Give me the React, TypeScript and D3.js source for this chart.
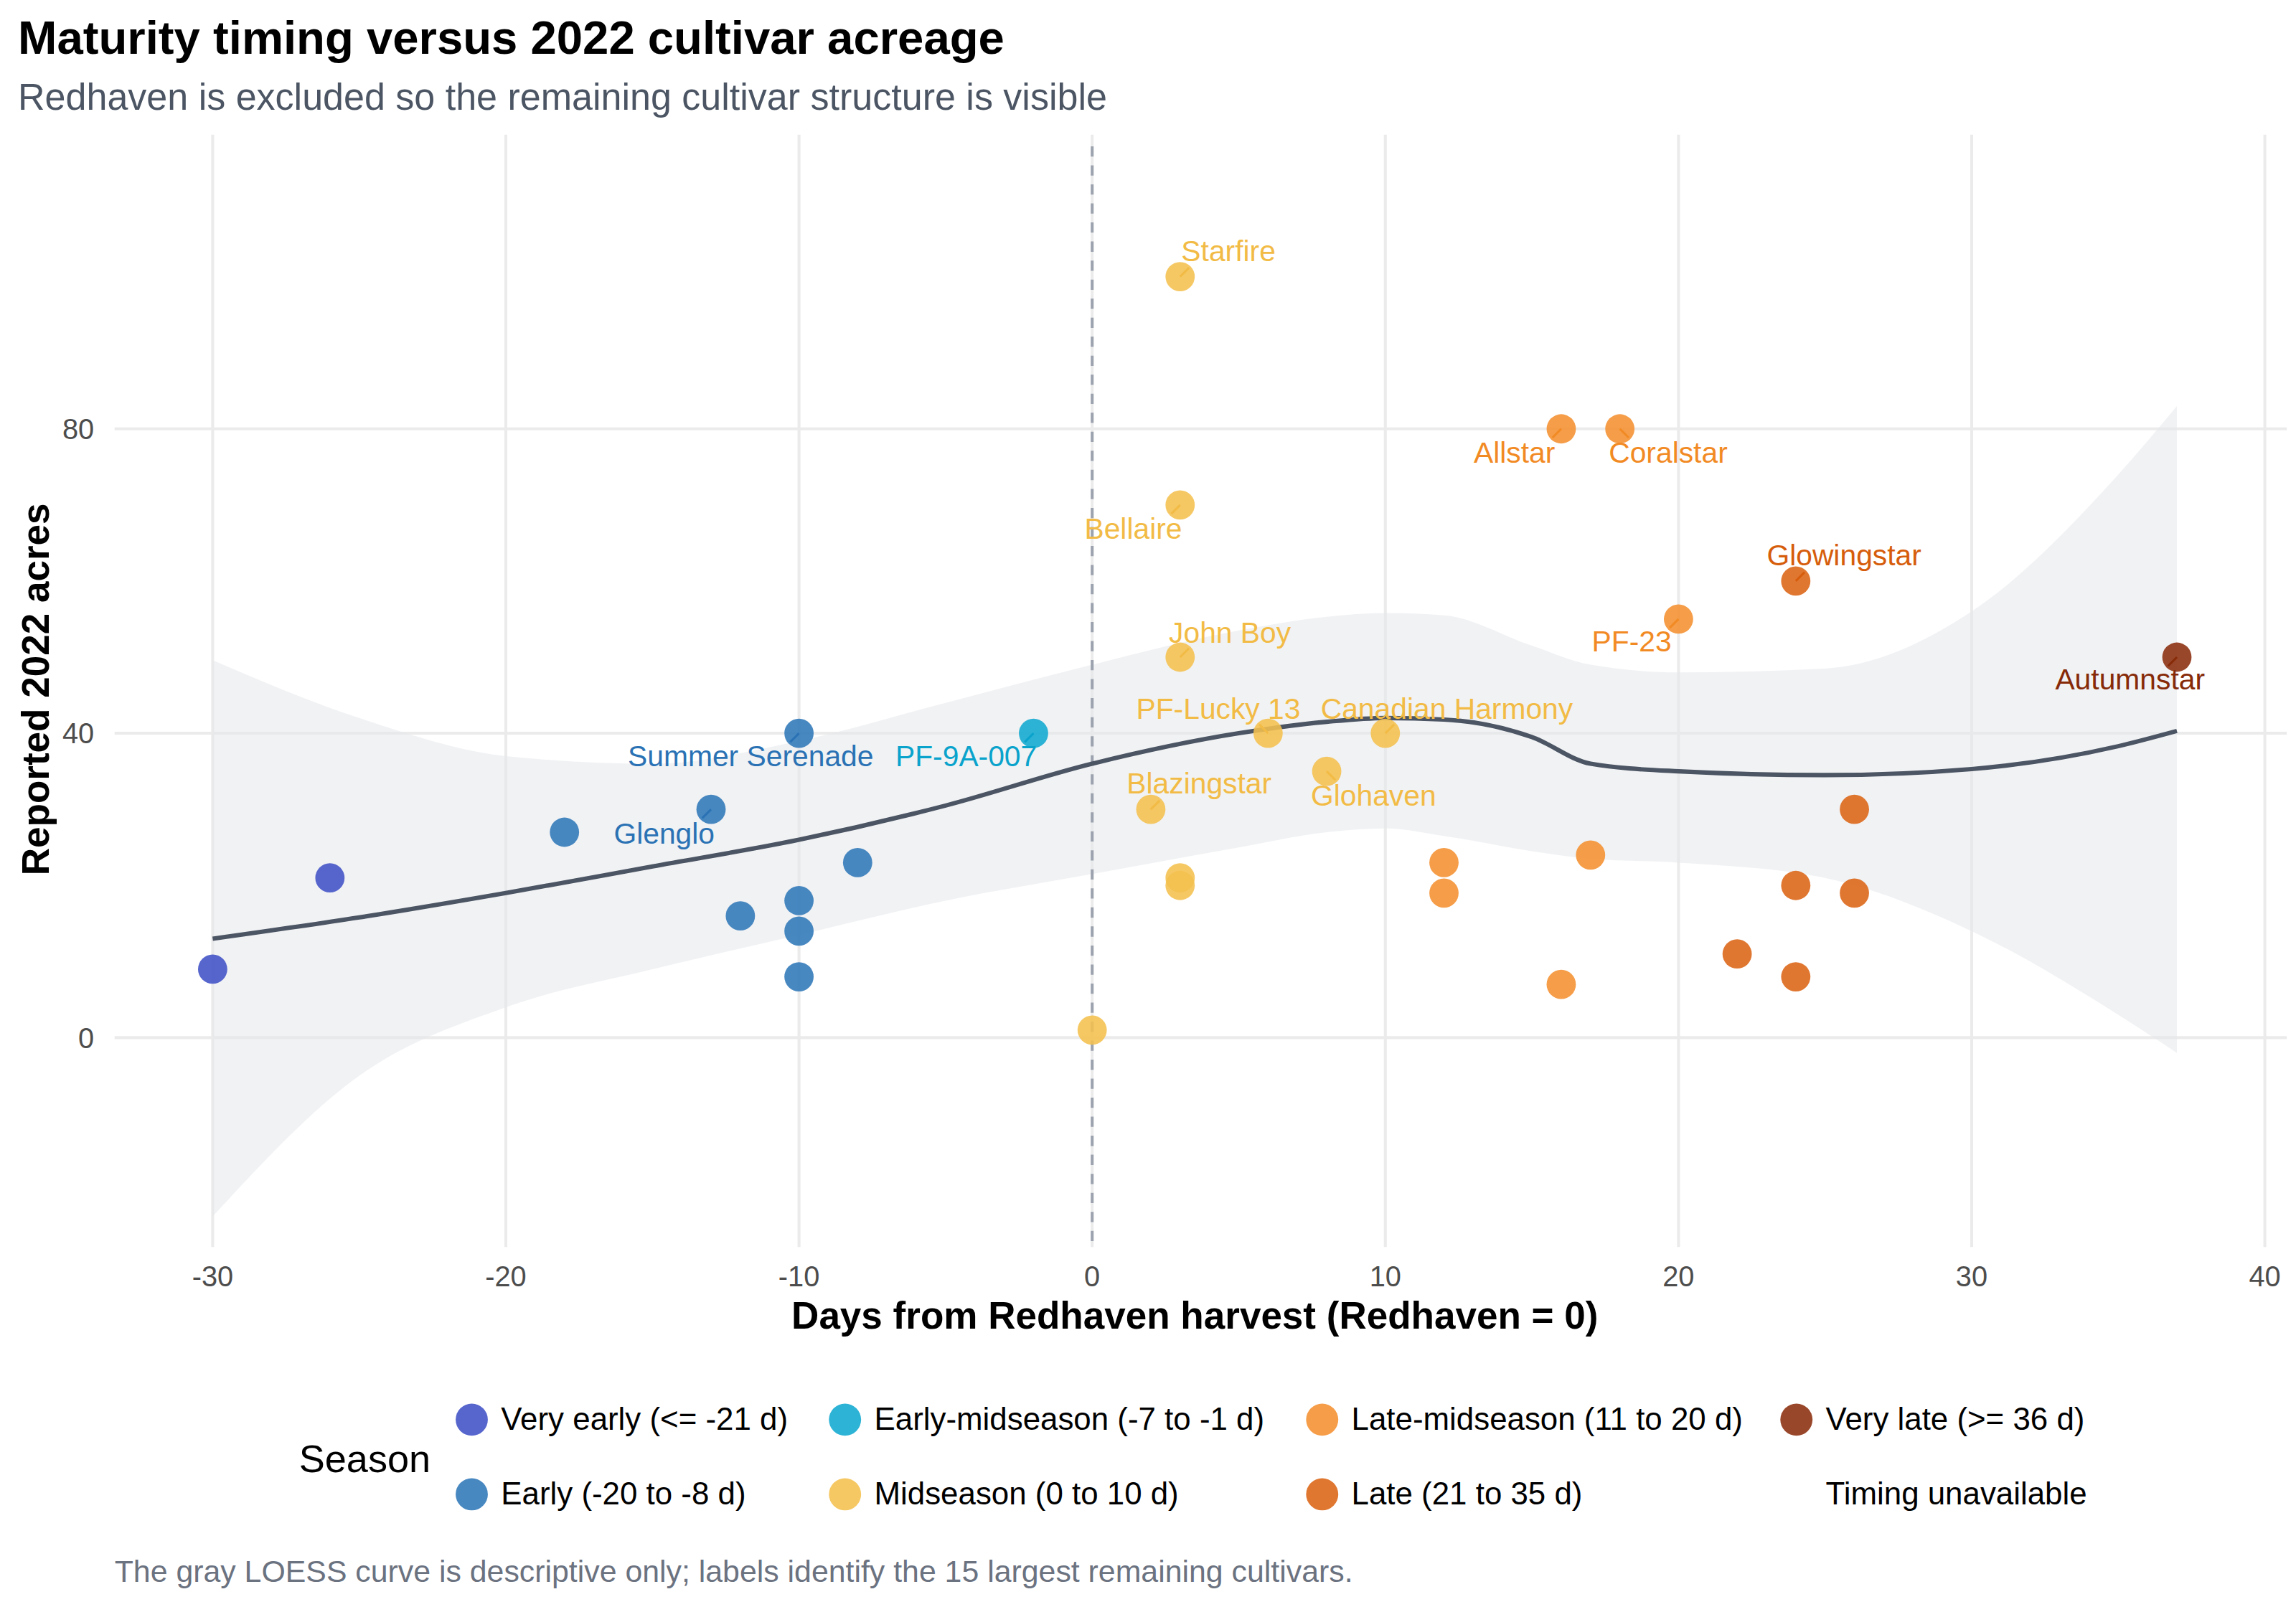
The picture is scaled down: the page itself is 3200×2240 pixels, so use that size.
import * as d3 from 'd3'
import React from 'react'

// season groups
const seasons = [
  { key: 've', label: 'Very early (<= -21 d)', color: '#4051c6' },
  { key: 'e', label: 'Early (-20 to -8 d)', color: '#2f78b8' },
  { key: 'em', label: 'Early-midseason (-7 to -1 d)', color: '#10a8cf' },
  { key: 'm', label: 'Midseason (0 to 10 d)', color: '#f4c04e' },
  { key: 'lm', label: 'Late-midseason (11 to 20 d)', color: '#f4902f' },
  { key: 'l', label: 'Late (21 to 35 d)', color: '#dc6415' },
  { key: 'vl', label: 'Very late (>= 36 d)', color: '#8b2d0d' },
  { key: 'na', label: 'Timing unavailable', color: 'none' },
]
const labelColors = { e: '#2a72b4', em: '#0aa3cc', m: '#f2bb45', lm: '#f28a24', l: '#d65d0c', vl: '#862a08' }

// [days, acres, season, name]
const cultivars: [number, number, string, string][] = [
  [-30, 9, 've', ''], [-26, 21, 've', ''],
  [-18, 27, 'e', ''], [-13, 30, 'e', 'Glenglo'], [-10, 40, 'e', 'Summer Serenade'],
  [-12, 16, 'e', ''], [-10, 18, 'e', ''], [-10, 14, 'e', ''], [-10, 8, 'e', ''], [-8, 23, 'e', ''],
  [-2, 40, 'em', 'PF-9A-007'],
  [3, 100, 'm', 'Starfire'], [3, 70, 'm', 'Bellaire'], [3, 50, 'm', 'John Boy'], [6, 40, 'm', 'PF-Lucky 13'],
  [10, 40, 'm', 'Canadian Harmony'], [8, 35, 'm', 'Glohaven'], [2, 30, 'm', 'Blazingstar'],
  [3, 21, 'm', ''], [3, 20, 'm', ''], [0, 1, 'm', ''],
  [16, 80, 'lm', 'Allstar'], [18, 80, 'lm', 'Coralstar'], [20, 55, 'lm', 'PF-23'],
  [12, 23, 'lm', ''], [12, 19, 'lm', ''], [17, 24, 'lm', ''], [16, 7, 'lm', ''],
  [24, 60, 'l', 'Glowingstar'], [26, 30, 'l', ''], [24, 20, 'l', ''], [26, 19, 'l', ''], [22, 11, 'l', ''], [24, 8, 'l', ''],
  [37, 50, 'vl', 'Autumnstar'],
]

// label nudges in px (dx, dy) from the point
const labelNudge = {
  Starfire: [33, -16], Allstar: [-32, 18], Coralstar: [33, 18], Bellaire: [-32, 18],
  Glowingstar: [33, -16], 'PF-23': [-32, 17], 'John Boy': [34, -15], Autumnstar: [-32, 17],
  'Canadian Harmony': [42, -15], 'PF-Lucky 13': [-34, -15], 'Summer Serenade': [-33, 17],
  'PF-9A-007': [-46, 17], Glohaven: [32, 18], Blazingstar: [33, -16], Glenglo: [-32, 18],
}

// LOESS fit
const fitX = [-30, -25, -20, -15, -10, -5, 0, 5, 8, 10, 12, 15, 17, 20, 25, 30, 35, 37]
const fitY = [13, 15.8, 19, 22.5, 26, 30.5, 36, 40, 41.5, 42, 41.8, 39.5, 36, 35, 34.5, 35.3, 38.3, 40.3]
const bandHi = [49.6, 42, 37, 36, 39, 44, 49, 53.5, 55.3, 55.8, 55.5, 51.5, 49, 48, 48.5, 56, 74, 83]
const bandLo = [-23.5, -5, 4, 9, 13.5, 18, 21.5, 25, 27, 27.5, 26.5, 24.5, 23.5, 23, 21, 14, 3, -2]

const xTicks = [-30, -20, -10, 0, 10, 20, 30, 40]
const yTicks = [0, 40, 80]

const W = 1568
const H = 1098
const font = '"Liberation Sans", Arial, sans-serif'

const App = () => {
  const x = d3.scaleLinear().domain([-30, 40]).range([145, 1547])
  const y = d3.scaleLinear().domain([0, 80]).range([709, 293])
  const colorOf = (k) => seasons.find((s) => s.key === k).color
  const fitPts = fitX.map((d, i) => ({ x: d, y: fitY[i], hi: bandHi[i], lo: bandLo[i] }))
  const line = d3.line().x((d) => x(d.x)).y((d) => y(d.y)).curve(d3.curveMonotoneX)
  const area = d3.area().x((d) => x(d.x)).y0((d) => y(d.lo)).y1((d) => y(d.hi)).curve(d3.curveMonotoneX)
  const colX = [322, 577, 903, 1227]

  return (
    <svg width={3200} height={2240} viewBox={`0 0 ${W} ${H}`} style={{ position: 'absolute', left: 0, top: 0 }} fontFamily={font}>
      <rect width={W} height={H} fill="white" />
      <text x={12} y={37} fontSize={32} fontWeight="bold" fill="#000">Maturity timing versus 2022 cultivar acreage</text>
      <text x={12} y={75} fontSize={25.5} fill="#4b5563">Redhaven is excluded so the remaining cultivar structure is visible</text>

      {xTicks.map((t) => (
        <line key={'gx' + t} x1={x(t)} x2={x(t)} y1={92} y2={852} stroke="#ebebeb" strokeWidth={2} />
      ))}
      {yTicks.map((t) => (
        <line key={'gy' + t} x1={78} x2={1562} y1={y(t)} y2={y(t)} stroke="#ebebeb" strokeWidth={2} />
      ))}
      <path d={area(fitPts)} fill="#e5e7eb" fillOpacity={0.55} />
      <line x1={x(0)} x2={x(0)} y1={100} y2={852} stroke="#9ca3af" strokeWidth={2} strokeDasharray="7,6" />
      <path d={line(fitPts)} fill="none" stroke="#4b5563" strokeWidth={3} />

      {cultivars.map(([dx, ac, s, name], i) => {
        const c = colorOf(s)
        const px = x(dx)
        const py = y(ac)
        const nd = name ? labelNudge[name] : null
        return (
          <g key={i}>
            <circle cx={px} cy={py} r={10} fill={c} fillOpacity={0.88} />
            {nd && (
              <>
                <line x1={px} y1={py} x2={px + Math.sign(nd[0]) * 6} y2={py + Math.sign(nd[1]) * 6} stroke={labelColors[s]} strokeWidth={1.5} />
                <text x={px + nd[0]} y={py + nd[1]} textAnchor="middle" dominantBaseline="middle" fontSize={20} fill={labelColors[s]}>
                  {name}
                </text>
              </>
            )}
          </g>
        )
      })}

      {xTicks.map((t) => (
        <text key={'tx' + t} x={x(t)} y={879} textAnchor="middle" fontSize={19.5} fill="#4d4d4d">{t}</text>
      ))}
      {yTicks.map((t) => (
        <text key={'ty' + t} x={64} y={y(t) + 7} textAnchor="end" fontSize={19.5} fill="#4d4d4d">{t}</text>
      ))}
      <text x={816} y={908} textAnchor="middle" fontSize={26} fontWeight="bold">Days from Redhaven harvest (Redhaven = 0)</text>
      <text transform="translate(33 471) rotate(-90)" textAnchor="middle" fontSize={26} fontWeight="bold">Reported 2022 acres</text>

      <text x={204} y={1006} fontSize={26.5}>Season</text>
      {seasons.map((s, i) => {
        const col = Math.floor(i / 2)
        const row = i % 2
        const cx = colX[col]
        const cy = 970 + row * 51
        return (
          <g key={s.key}>
            {s.color !== 'none' && <circle cx={cx} cy={cy} r={11} fill={s.color} fillOpacity={0.88} />}
            <text x={cx + 20} y={cy + 7} fontSize={21.5} fill="#000">{s.label}</text>
          </g>
        )
      })}
      <text x={78} y={1081} fontSize={21} fill="#6b7280">
        The gray LOESS curve is descriptive only; labels identify the 15 largest remaining cultivars.
      </text>
    </svg>
  )
}

export default App
